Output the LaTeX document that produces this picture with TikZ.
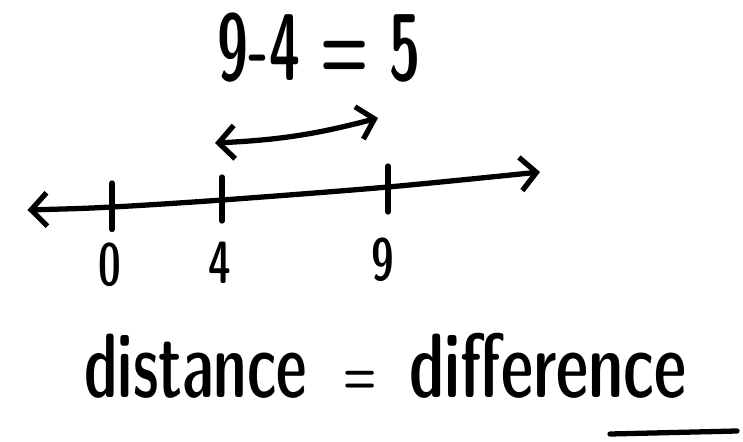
\documentclass[tikz,border=0pt]{standalone}
\usepackage{amsmath}
\usepackage{tikz}
\usepackage{xcolor}
\usetikzlibrary{arrows.meta}

\newcommand{\handfont}[1]{\sffamily\fontseries{sbc}\fontsize{#1}{#1}\selectfont}

\tikzset{
    hand/.style={inner sep=0pt, xscale=0.8, transform shape},
    pen/.style={line width=3pt, line cap=round, line join=round},
    barb/.style={pen, {Straight Barb[length=9pt,width=19pt,line width=3pt]}-{Straight Barb[length=9pt,width=19pt,line width=3pt]}}
}

\begin{document}
\begin{tikzpicture}
    \useasboundingbox (0,0) rectangle (14.86,8.82);
    % number line
    \coordinate (lineL) at (0.55,4.62);
    \coordinate (t0) at (2.24,4.68);
    \coordinate (t4) at (4.44,4.82);
    \coordinate (t9) at (7.76,5.08);
    \coordinate (lineR) at (10.80,5.38);
    \draw[barb] plot[smooth] coordinates {(lineL) (t0) (t4) (t9) (lineR)};
    \draw[pen] ([yshift=0.48cm]t0)--([yshift=-0.45cm]t0);
    \draw[pen] ([yshift=0.46cm]t4)--([yshift=-0.42cm]t4);
    \draw[pen] ([yshift=0.42cm]t9)--([yshift=-0.50cm]t9);
    \node[hand, font=\handfont{34}] (n0) at (2.2,3.52) {0};
    \node[hand, font=\handfont{34}] (n4) at (4.4,3.56) {4};
    \node[hand, font=\handfont{34}] (n9) at (7.66,3.62) {9};
    % span from 4 to 9
    \coordinate (spanL) at (4.30,5.96);
    \coordinate (spanR) at (7.56,6.46);
    \draw[barb] (spanL) to[bend right=6] (spanR);
    \node[hand, xscale=0.86, font=\handfont{54}] (calc) at (6.38,7.86) {9-4 = 5};
    % bottom text
    \node[hand, xscale=0.95, anchor=base west, font=\handfont{52}] (dist) at (1.68,0.88) {distance};
    \node[hand, anchor=west, font=\handfont{32}] (eqsign) at (6.86,1.16) {=};
    \node[hand, anchor=base west, font=\handfont{52}] (diff) at (8.18,0.88) {difference};
    \coordinate (ulL) at (12.2,0.14);
    \coordinate (ulR) at (14.74,0.20);
    \draw[pen] (ulL)--(ulR);
\end{tikzpicture}
\end{document}
